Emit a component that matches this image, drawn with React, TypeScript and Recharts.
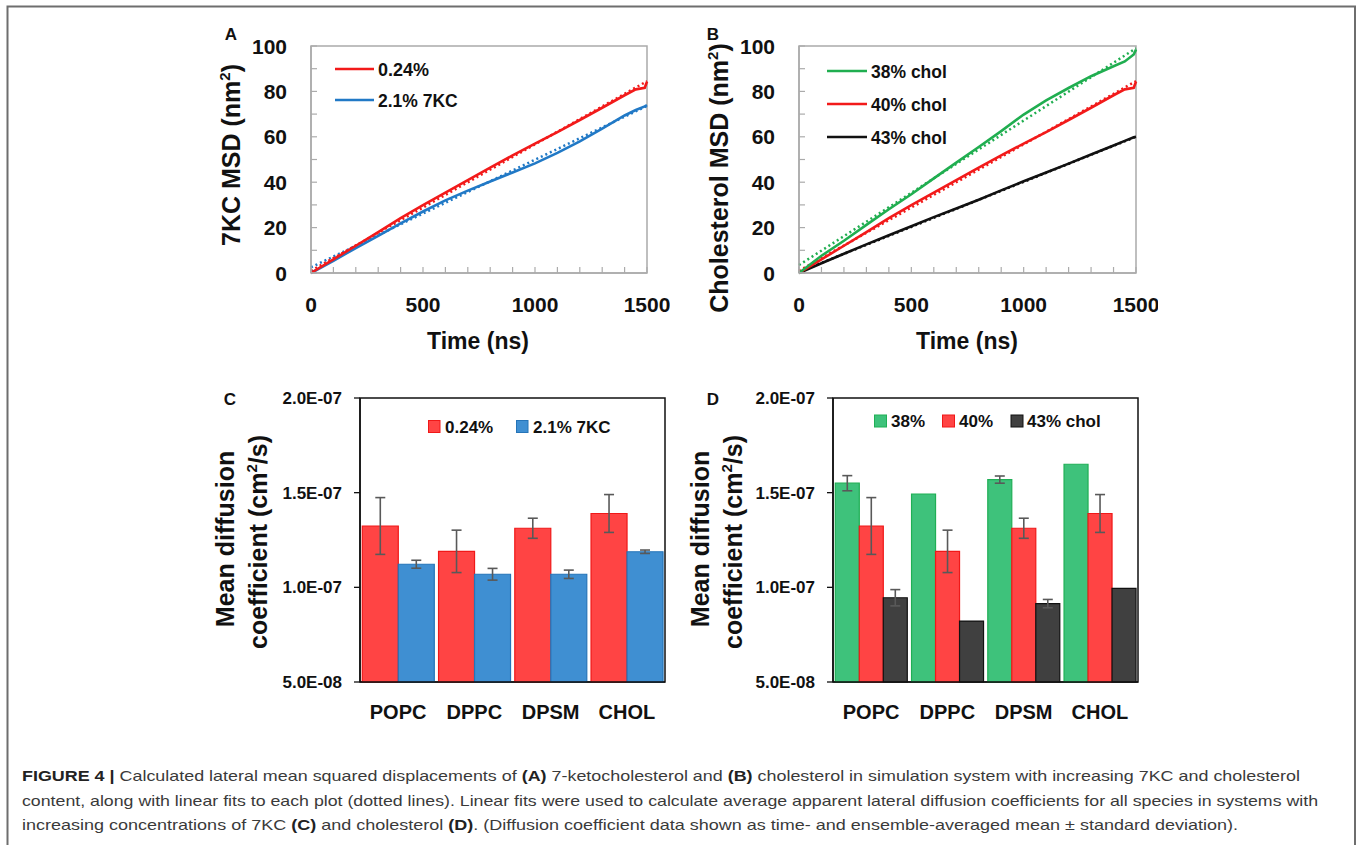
import React from 'react';
import { LineChart, Line, XAxis, YAxis, BarChart, Bar, ErrorBar, ReferenceArea } from 'recharts';

const FONT = '"Liberation Sans", Arial, Helvetica, sans-serif';

// ---------- Panels A & B : lateral MSD vs time ----------
const timeNs = [0, 100, 200, 300, 400, 500, 600, 700, 800, 900, 1000, 1100, 1200, 1300, 1400, 1450, 1490, 1500];
const msd024 = [0, 6.0, 12.0, 18.0, 24.2, 29.9, 35.4, 40.9, 46.4, 51.8, 57.0, 62.1, 67.4, 72.8, 78.3, 80.9, 81.6, 84.3];
const msd7kc = [0, 5.4, 11.0, 16.4, 21.9, 27.1, 32.0, 36.3, 40.3, 44.3, 48.3, 52.9, 58.0, 63.6, 69.4, 71.8, 73.4, 74.0];
const msd38 = [0, 7.6, 14.2, 21.2, 28.1, 34.7, 41.7, 48.6, 55.5, 62.5, 69.8, 76.0, 81.5, 86.7, 91.1, 93.2, 96.3, 98.4];
const msd40 = [0, 6.0, 12.0, 18.0, 24.2, 29.9, 35.4, 40.9, 46.4, 51.8, 57.0, 62.1, 67.4, 72.8, 78.3, 80.9, 81.6, 84.3];
const msd43 = [0, 4.3, 8.5, 12.6, 16.6, 20.6, 24.6, 28.4, 32.3, 36.4, 40.4, 44.3, 48.2, 52.2, 56.2, 58.2, 59.8, 60.0];

// linear fits (dotted), end points
const fitTime = [0, 1500];
const fit024 = [1.0, 84.5];
const fit7kc = [2.5, 73.6];
const fit38 = [3.5, 99.0];
const fit40 = [1.0, 84.5];
const fit43 = [0.5, 60.0];

const msdXTicks = [0, 100, 200, 300, 400, 500, 600, 700, 800, 900, 1000, 1100, 1200, 1300, 1400, 1500];
const msdXLabels = [0, 500, 1000, 1500];
const msdYTicks = [0, 10, 20, 30, 40, 50, 60, 70, 80, 90, 100];
const msdYLabels = [0, 20, 40, 60, 80, 100];
const msdDomainY = [0, 100];

// ---------- Panels C & D : diffusion coefficients ----------
const lipids = ['POPC', 'DPPC', 'DPSM', 'CHOL'];
const d024 = [1.324e-7, 1.190e-7, 1.312e-7, 1.390e-7];
const e024 = [0.150e-7, 0.112e-7, 0.053e-7, 0.100e-7];
const d7kc = [1.122e-7, 1.069e-7, 1.069e-7, 1.188e-7];
const e7kc = [0.021e-7, 0.031e-7, 0.022e-7, 0.009e-7];
const d38 = [1.550e-7, 1.493e-7, 1.569e-7, 1.650e-7];
const e38 = [0.040e-7, 0, 0.019e-7, 0];
const d40 = [1.324e-7, 1.190e-7, 1.312e-7, 1.390e-7];
const e40 = [0.150e-7, 0.112e-7, 0.053e-7, 0.100e-7];
const d43 = [0.945e-7, 0.822e-7, 0.914e-7, 0.995e-7];
const e43 = [0.043e-7, 0, 0.022e-7, 0];
const dTicks = [5e-8, 1e-7, 1.5e-7, 2e-7];
const dDomain = [5e-8, 2e-7];

const rowsA = timeNs.map((t, i) => ({ t, a: msd024[i], b: msd7kc[i] }));
const rowsB = timeNs.map((t, i) => ({ t, g: msd38[i], r: msd40[i], k: msd43[i] }));
const fitRows = (f: number[]) => fitTime.map((t, i) => ({ t, f: f[i] }));

const rowsC = lipids.map((c, i) => ({ c, v1: d024[i], e1: e024[i], v2: d7kc[i], e2: e7kc[i] }));
const rowsD = lipids.map((c, i) => ({ c, v1: d38[i], e1: e38[i], v2: d40[i], e2: e40[i], v3: d43[i], e3: e43[i] }));

const fmtE = (v: number) => {
  const [m, e] = v.toExponential(1).split('e');
  const n = parseInt(e, 10);
  return `${m}E${n < 0 ? '-' : '+'}${String(Math.abs(n)).padStart(2, '0')}`;
};

const RED_LINE = '#F21A1A';
const BLUE_LINE = '#2179C6';
const GREEN_LINE = '#20AE50';
const BLACK_LINE = '#111111';
const FRAME_GRAY = '#ABABAB';

const MsdXTick = (props: any) => {
  const { x, y, payload } = props;
  const v = payload.value;
  return (
    <g>
      <line x1={x} y1={y} x2={x} y2={y - 6} stroke={FRAME_GRAY} strokeWidth={1.2} />
      {msdXLabels.includes(v) && (
        <text x={x} y={y + 39} textAnchor="middle" fontFamily={FONT} fontWeight="bold" fontSize={21} fill="#111">
          {v}
        </text>
      )}
    </g>
  );
};

const MsdYTick = (props: any) => {
  const { x, y, payload } = props;
  const v = payload.value;
  return (
    <g>
      <line x1={x} y1={y} x2={x + 6} y2={y} stroke={FRAME_GRAY} strokeWidth={1.2} />
      {msdYLabels.includes(v) && (
        <text x={x - 24} y={y + 7.5} textAnchor="end" fontFamily={FONT} fontWeight="bold" fontSize={21} fill="#111">
          {v}
        </text>
      )}
    </g>
  );
};

const DiffXTick = (props: any) => {
  const { x, y, payload } = props;
  return (
    <text x={x} y={y + 37} textAnchor="middle" fontFamily={FONT} fontWeight="bold" fontSize={20} fill="#111">
      {payload.value}
    </text>
  );
};

const DiffYTick = (props: any) => {
  const { x, y, payload } = props;
  return (
    <g>
      <line x1={x} y1={y} x2={x - 6} y2={y} stroke="#111" strokeWidth={1.3} />
      <text x={x - 18} y={y + 6} textAnchor="end" fontFamily={FONT} fontWeight="bold" fontSize={17} fill="#111">
        {fmtE(payload.value)}
      </text>
    </g>
  );
};

const MsdChart = ({ left, rows, series, fits, marginRight }: any) => (
  <div style={{ position: 'absolute', left, top: 30 }}>
    <LineChart width={420} height={320} data={rows} margin={{ top: 16, right: marginRight, bottom: 0, left: 0 }}>
      <XAxis
        type="number"
        dataKey="t"
        domain={[0, 1500]}
        ticks={msdXTicks}
        interval={0}
        height={77}
        tickSize={0}
        tickMargin={0}
        axisLine={{ stroke: FRAME_GRAY, strokeWidth: 1.5 }}
        tickLine={false}
        tick={<MsdXTick />}
      />
      <YAxis
        type="number"
        domain={msdDomainY}
        ticks={msdYTicks}
        interval={0}
        width={61}
        tickSize={0}
        tickMargin={0}
        axisLine={{ stroke: FRAME_GRAY, strokeWidth: 1.5 }}
        tickLine={false}
        tick={<MsdYTick />}
      />
      <ReferenceArea
        y1={msdDomainY[0]}
        y2={msdDomainY[1]}
        fill="none"
        fillOpacity={0}
        stroke={FRAME_GRAY}
        strokeWidth={1.5}
        ifOverflow="visible"
      />
      {fits.map((f: any) => (
        <Line
          key={f.key}
          data={fitRows(f.values)}
          dataKey="f"
          type="linear"
          stroke={f.color}
          strokeWidth={2.5}
          strokeDasharray="2 3"
          dot={false}
          activeDot={false}
          isAnimationActive={false}
        />
      ))}
      {series.map((s: any) => (
        <Line
          key={s.key}
          dataKey={s.key}
          type="linear"
          stroke={s.color}
          strokeWidth={2.6}
          dot={false}
          activeDot={false}
          isAnimationActive={false}
        />
      ))}
    </LineChart>
  </div>
);

const DiffChart = ({ left, rows, bars }: any) => (
  <div style={{ position: 'absolute', left, top: 380 }}>
    <BarChart
      width={400}
      height={350}
      data={rows}
      margin={{ top: 18, right: 15, bottom: 0, left: 0 }}
      barCategoryGap="3%"
      barGap={0}
    >
      <XAxis
        dataKey="c"
        height={48}
        tickSize={0}
        tickMargin={0}
        axisLine={{ stroke: '#111', strokeWidth: 1.5 }}
        tickLine={false}
        tick={<DiffXTick />}
        interval={0}
      />
      <YAxis
        type="number"
        domain={dDomain}
        ticks={dTicks}
        interval={0}
        width={80}
        tickSize={0}
        tickMargin={0}
        axisLine={{ stroke: '#111', strokeWidth: 1.5 }}
        tickLine={false}
        tick={<DiffYTick />}
      />
      {bars.map((b: any) => (
        <Bar key={b.key} dataKey={b.key} fill={b.fill} stroke={b.stroke} strokeWidth={1.2} isAnimationActive={false}>
          <ErrorBar dataKey={b.err} width={5} stroke="#595959" strokeWidth={1.6} direction="y" isAnimationActive={false} />
        </Bar>
      ))}
      <ReferenceArea
        y1={dDomain[0]}
        y2={dDomain[1]}
        fill="none"
        fillOpacity={0}
        stroke="#111"
        strokeWidth={1.5}
        ifOverflow="visible"
      />
    </BarChart>
  </div>
);

const BOLD = { fontFamily: FONT, fontWeight: 'bold' as const, fill: '#111' };

const captionLines: { t: string; b?: boolean }[][] = [
  [
    { t: 'FIGURE 4 |', b: true },
    { t: ' Calculated lateral mean squared displacements of ' },
    { t: '(A)', b: true },
    { t: ' 7-ketocholesterol and ' },
    { t: '(B)', b: true },
    { t: ' cholesterol in simulation system with increasing 7KC and cholesterol' },
  ],
  [
    {
      t: 'content, along with linear fits to each plot (dotted lines). Linear fits were used to calculate average apparent lateral diffusion coefficients for all species in systems with',
    },
  ],
  [
    { t: 'increasing concentrations of 7KC ' },
    { t: '(C)', b: true },
    { t: ' and cholesterol ' },
    { t: '(D)', b: true },
    { t: '. (Diffusion coefficient data shown as time- and ensemble-averaged mean \u00B1 standard deviation).' },
  ],
];
const captionY = [781, 805.5, 830];
const captionLen = [1278, 1296, 1216];

const Overlay = () => (
  <svg width={1357} height={845} style={{ position: 'absolute', left: 0, top: 0, pointerEvents: 'none' }}>
    {/* outer frame */}
    <path d="M7.5 860 L7.5 6.5 L1355 6.5 L1355 860" fill="none" stroke="#6E6E6E" strokeWidth={2} />

    {/* panel letters */}
    <text x={231} y={40} textAnchor="middle" fontSize={17} {...BOLD}>A</text>
    <text x={713} y={40} textAnchor="middle" fontSize={17} {...BOLD}>B</text>
    <text x={230} y={405} textAnchor="middle" fontSize={17} {...BOLD}>C</text>
    <text x={713} y={405} textAnchor="middle" fontSize={17} {...BOLD}>D</text>

    {/* axis titles A/B */}
    <text x={478} y={349} textAnchor="middle" fontSize={23} {...BOLD}>Time (ns)</text>
    <text x={967} y={349} textAnchor="middle" fontSize={23} {...BOLD}>Time (ns)</text>
    <text transform="translate(240,155) rotate(-90)" textAnchor="middle" fontSize={25} {...BOLD}>
      7KC MSD (nm<tspan fontSize={15} dy={-10}>2</tspan><tspan dy={10}>)</tspan>
    </text>
    <text transform="translate(728,178) rotate(-90)" textAnchor="middle" fontSize={25} {...BOLD}>
      Cholesterol MSD (nm<tspan fontSize={15} dy={-10}>2</tspan><tspan dy={10}>)</tspan>
    </text>

    {/* axis titles C/D */}
    <text transform="translate(234,539) rotate(-90)" textAnchor="middle" fontSize={25} {...BOLD}>Mean diffusion</text>
    <text transform="translate(267,542) rotate(-90)" textAnchor="middle" fontSize={25} {...BOLD}>
      coefficient (cm<tspan fontSize={15} dy={-10}>2</tspan><tspan dy={10}>/s)</tspan>
    </text>
    <text transform="translate(709,539) rotate(-90)" textAnchor="middle" fontSize={25} {...BOLD}>Mean diffusion</text>
    <text transform="translate(742,542) rotate(-90)" textAnchor="middle" fontSize={25} {...BOLD}>
      coefficient (cm<tspan fontSize={15} dy={-10}>2</tspan><tspan dy={10}>/s)</tspan>
    </text>

    {/* legend A */}
    <line x1={335} y1={69} x2={374} y2={69} stroke={RED_LINE} strokeWidth={2.6} />
    <text x={378} y={75.5} fontSize={18} {...BOLD}>0.24%</text>
    <line x1={335} y1={100} x2={374} y2={100} stroke={BLUE_LINE} strokeWidth={2.6} />
    <text x={378} y={106.5} fontSize={17.5} {...BOLD}>2.1% 7KC</text>

    {/* legend B */}
    <line x1={827} y1={71} x2={867} y2={71} stroke={GREEN_LINE} strokeWidth={2.6} />
    <text x={871} y={77.5} fontSize={17.5} {...BOLD}>38% chol</text>
    <line x1={827} y1={104} x2={867} y2={104} stroke={RED_LINE} strokeWidth={2.6} />
    <text x={871} y={110.5} fontSize={17.5} {...BOLD}>40% chol</text>
    <line x1={827} y1={137} x2={867} y2={137} stroke={BLACK_LINE} strokeWidth={2.6} />
    <text x={871} y={143.5} fontSize={17.5} {...BOLD}>43% chol</text>

    {/* legend C */}
    <rect x={428.5} y={420.5} width={11.5} height={12} fill="#FF4444" stroke="#F01818" />
    <text x={445} y={432.5} fontSize={17} {...BOLD}>0.24%</text>
    <rect x={516.5} y={420.5} width={11.5} height={12} fill="#3F8FD2" stroke="#2574B8" />
    <text x={533} y={432.5} fontSize={17} {...BOLD}>2.1% 7KC</text>

    {/* legend D */}
    <rect x={874.5} y={415} width={12} height={12} fill="#3EC27B" stroke="#1FAF55" />
    <text x={891} y={427} fontSize={17} {...BOLD}>38%</text>
    <rect x={942.5} y={415} width={12} height={12} fill="#FF4444" stroke="#F01818" />
    <text x={959} y={427} fontSize={17} {...BOLD}>40%</text>
    <rect x={1011} y={415} width={12} height={12} fill="#404040" stroke="#111" />
    <text x={1027} y={427} fontSize={17} {...BOLD}>43% chol</text>

    {/* caption */}
    {captionLines.map((segs, li) => (
      <text
        key={li}
        x={22}
        y={captionY[li]}
        textLength={captionLen[li]}
        lengthAdjust="spacingAndGlyphs"
        fontFamily={FONT}
        fontSize={15}
        fill="#3A3A3A"
      >
        {segs.map((s, si) => (
          <tspan key={si} fontWeight={s.b ? 'bold' : 'normal'} fill={s.b ? '#222' : '#3A3A3A'}>
            {s.t}
          </tspan>
        ))}
      </text>
    ))}
  </svg>
);

export default function App() {
  return (
    <div style={{ position: 'absolute', left: 0, top: 0, width: 1357, height: 845, background: '#fff', overflow: 'hidden' }}>
      <MsdChart
        left={250}
        rows={rowsA}
        marginRight={23}
        series={[
          { key: 'b', color: BLUE_LINE },
          { key: 'a', color: RED_LINE },
        ]}
        fits={[
          { key: 'fb', values: fit7kc, color: BLUE_LINE },
          { key: 'fa', values: fit024, color: RED_LINE },
        ]}
      />
      <MsdChart
        left={738}
        rows={rowsB}
        marginRight={22}
        series={[
          { key: 'k', color: BLACK_LINE },
          { key: 'r', color: RED_LINE },
          { key: 'g', color: GREEN_LINE },
        ]}
        fits={[
          { key: 'fk', values: fit43, color: BLACK_LINE },
          { key: 'fr', values: fit40, color: RED_LINE },
          { key: 'fg', values: fit38, color: GREEN_LINE },
        ]}
      />
      <DiffChart
        left={280}
        rows={rowsC}
        bars={[
          { key: 'v1', err: 'e1', fill: '#FF4444', stroke: '#F01818' },
          { key: 'v2', err: 'e2', fill: '#3F8FD2', stroke: '#2574B8' },
        ]}
      />
      <DiffChart
        left={753}
        rows={rowsD}
        bars={[
          { key: 'v1', err: 'e1', fill: '#3EC27B', stroke: '#1FAF55' },
          { key: 'v2', err: 'e2', fill: '#FF4444', stroke: '#F01818' },
          { key: 'v3', err: 'e3', fill: '#404040', stroke: '#111' },
        ]}
      />
      <Overlay />
    </div>
  );
}
